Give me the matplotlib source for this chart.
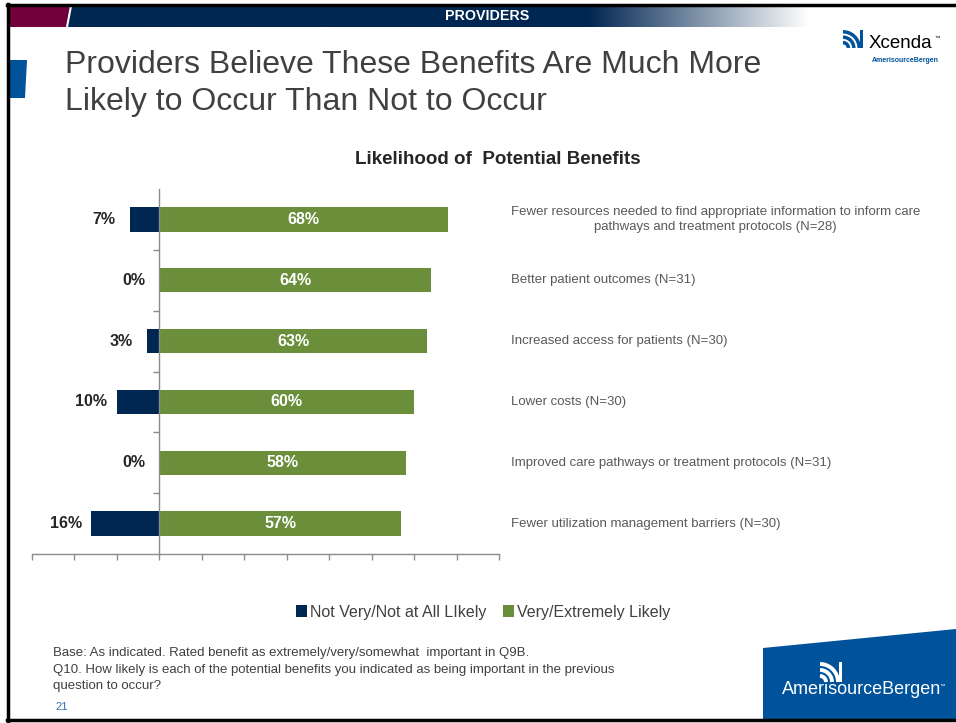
import numpy as np
import matplotlib.pyplot as plt
from matplotlib.patches import Polygon, Patch, Arc, Rectangle

# survey results, top to bottom
benefits = [
    "Fewer resources needed to find appropriate information to inform care\npathways and treatment protocols (N=28)",
    "Better patient outcomes (N=31)",
    "Increased access for patients (N=30)",
    "Lower costs (N=30)",
    "Improved care pathways or treatment protocols (N=31)",
    "Fewer utilization management barriers (N=30)",
]
not_likely = [7, 0, 3, 10, 0, 16]
likely = [68, 64, 63, 60, 58, 57]
series_names = ["Not Very/Not at All LIkely", "Very/Extremely Likely"]

NAVY = "#002652"
GREEN = "#6A8E3A"
BLUE = "#00529B"
MAROON = "#72003C"
AXIS_GRAY = "#8C8C8C"
TEXT = "#404040"
SANS = ["Liberation Sans", "DejaVu Sans"]

plt.rcParams["font.family"] = SANS

W, H = 956, 723
fig = plt.figure(figsize=(W / 100, H / 100), dpi=100)

# slide decoration layer in pixel units (y grows downward)
bg = fig.add_axes([0, 0, 1, 1])
bg.set_xlim(0, W)
bg.set_ylim(H, 0)
bg.axis("off")

# header bar: navy fading to white
grad = np.ones((2, 400, 4))
grad[..., :3] = np.array([0, 38, 82]) / 255
xs = np.linspace(66, W, 400)
grad[..., 3] = np.clip((810 - xs) / (810 - 590), 0, 1)
bg.imshow(grad, extent=[66, W, 27, 6], aspect="auto", interpolation="bilinear", zorder=1)
bg.add_patch(Polygon([(9, 6), (70, 6), (66, 27), (9, 27)], closed=True,
                     facecolor=MAROON, edgecolor="none", zorder=2))
bg.plot([71, 67], [6, 27], color="white", lw=1.5, zorder=3)
bg.text(487, 16.5, "PROVIDERS", color="white", fontsize=10.3, fontweight="bold",
        ha="center", va="center", zorder=4)

# frame
bg.plot([8, 8], [4, 721], color="black", lw=2.5, zorder=5)
bg.plot([7, W], [5, 5], color="black", lw=2.5, zorder=5)
bg.plot([7, W], [720, 720], color="black", lw=2.5, zorder=5)

# left tab
bg.add_patch(Polygon([(9, 60), (27, 60), (25, 98), (9, 98)], closed=True,
                     facecolor=BLUE, edgecolor="none"))

# slide title
bg.text(65, 73, "Providers Believe These Benefits Are Much More",
        fontsize=23, color=TEXT, ha="left", va="baseline")
bg.text(65, 110, "Likely to Occur Than Not to Occur",
        fontsize=23, color=TEXT, ha="left", va="baseline")


def swoosh(x0, y0, size, color):
    # quarter-circle stripes fanning up and right from the lower-left corner
    for r in (0.3, 0.6, 0.9):
        bg.add_patch(Arc((x0, y0), 2 * r * size, 2 * r * size, theta1=270, theta2=360,
                         color=color, lw=size * 0.14, zorder=6))
    bg.add_patch(Rectangle((x0 + size * 0.95, y0 - size), size * 0.15, size,
                           facecolor=color, edgecolor="none", zorder=6))


# Xcenda logo
swoosh(843, 48, 18, BLUE)
bg.text(869, 43, "Xcenda", fontsize=13.5, color="black", ha="left", va="center")
bg.text(935, 38, "™", fontsize=4, color="black", ha="left", va="center")
bg.text(905, 60, "AmerisourceBergen", fontsize=5, color=BLUE, fontweight="bold",
        ha="center", va="center")

# bottom-right brand block
bg.add_patch(Polygon([(763, 648), (W, 629), (W, 719), (763, 719)], closed=True,
                     facecolor=BLUE, edgecolor="none"))
swoosh(820, 682, 20, "white")
bg.text(862, 690, "AmerisourceBergen", fontsize=13, color="white", ha="center",
        va="center")
bg.text(940, 686, "™", fontsize=4, color="white", ha="left", va="center")

# chart title
bg.text(498, 160, "Likelihood of  Potential Benefits", fontsize=13.5, fontweight="bold",
        color="#262626", ha="center", va="center")

# footnote
bg.text(53, 647, "Base: As indicated. Rated benefit as extremely/very/somewhat  important in Q9B.\n"
        "Q10. How likely is each of the potential benefits you indicated as being important in the previous\n"
        "question to occur?", fontsize=9.5, color=TEXT, ha="left", va="top",
        linespacing=1.5)
bg.text(55, 707, "21", fontsize=8, color="#2E6DB4", ha="left", va="center")

# diverging bar chart
ax = fig.add_axes([32 / W, 1 - 554 / H, 467 / W, 365 / H])
y = np.arange(len(benefits))
neg = [-v for v in not_likely]
ax.barh(y, neg, height=0.4, color=NAVY, edgecolor="none", zorder=2)
ax.barh(y, likely, height=0.4, color=GREEN, edgecolor="none", zorder=2)
ax.set_xlim(-30, 80)
ax.set_ylim(len(benefits) - 0.5, -0.5)

for s in ("top", "right"):
    ax.spines[s].set_visible(False)
ax.spines["left"].set_position(("data", 0))
for s in ("left", "bottom"):
    ax.spines[s].set_color(AXIS_GRAY)
    ax.spines[s].set_linewidth(1)
ax.set_xticks(np.arange(-30, 81, 10))
ax.set_xticklabels([])
ax.set_yticks(y[:-1] + 0.5)
ax.set_yticklabels([])
ax.tick_params(axis="both", direction="out", length=4, width=1, color=AXIS_GRAY)

for yi, n, p, label in zip(y, not_likely, likely, benefits):
    ax.text(-n - 6, yi, f"{n}%", ha="center", va="center", fontsize=11.5,
            fontweight="bold", color="#262626")
    ax.text(p / 2, yi, f"{p}%", ha="center", va="center", fontsize=11.5,
            fontweight="bold", color="white", zorder=3)
    ax.text(82.8, yi, label, ha="left", va="center", multialignment="center",
            fontsize=9.5, color="#595959", clip_on=False, linespacing=1.35)

handles = [Patch(facecolor=NAVY), Patch(facecolor=GREEN)]
fig.legend(handles, series_names, loc="center", bbox_to_anchor=(483 / W, 1 - 612 / H),
           ncol=2, frameon=False, handlelength=0.7, handleheight=0.7,
           handletextpad=0.2, columnspacing=1.0, prop={"size": 11.5},
           labelcolor=TEXT)

fig.savefig("out.png", dpi=100)
